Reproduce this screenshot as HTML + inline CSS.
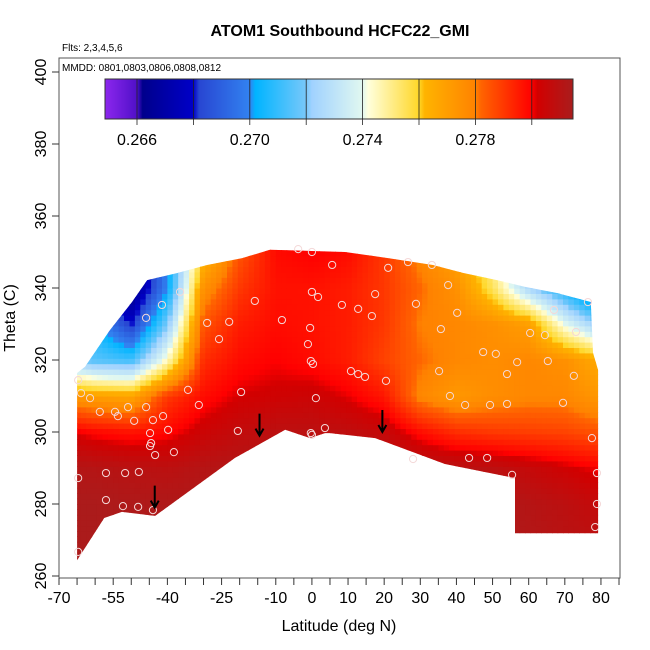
<!DOCTYPE html>
<html><head><meta charset="utf-8"><style>
body{margin:0;background:#fff;}
svg{display:block;font-family:"Liberation Sans",sans-serif;}
</style></head><body>
<svg id="chart" width="650" height="650" viewBox="0 0 650 650">
<text x="340" y="36" text-anchor="middle" font-size="16" font-weight="bold">ATOM1 Southbound HCFC22_GMI</text>
<text x="62" y="51" font-size="10">Flts: 2,3,4,5,6</text>
<g id="heat"></g>
<g id="pts"></g>
<g id="arrows"></g>
<rect x="59" y="58" width="561" height="520" fill="none" stroke="#555" stroke-width="1"/>
<text x="62" y="71" font-size="10">MMDD: 0801,0803,0806,0808,0812</text>
<g id="cbar"></g>
<g id="axes"></g>
<text x="339" y="631" text-anchor="middle" font-size="16">Latitude (deg N)</text>
<text transform="translate(15,318) rotate(-90)" text-anchor="middle" font-size="16">Theta (C)</text>
</svg>
<script>
const lats=[-70,-60,-50,-40,-30,-20,-10,0,10,20,30,40,50,60,70,80];
const thetas=[260,270,280,290,300,310,320,330,340,350];
const vals=[
[0.2814,0.2814,0.2814,0.2814,0.2814,0.2814,0.2814,0.2814,0.2814,0.2814,0.2814,0.2814,0.2814,0.2814,0.2814,0.2814],
[0.2814,0.2814,0.2814,0.2814,0.2814,0.2814,0.2814,0.2814,0.2814,0.2814,0.2814,0.2814,0.2814,0.2812,0.281,0.2809],
[0.2814,0.2814,0.2813,0.2813,0.2813,0.2814,0.2814,0.2814,0.2814,0.2814,0.2814,0.2813,0.2813,0.2811,0.2809,0.2806],
[0.2812,0.2811,0.281,0.2809,0.2811,0.2812,0.2813,0.2813,0.2813,0.2812,0.2811,0.281,0.2809,0.2806,0.2803,0.28],
[0.2803,0.2799,0.2797,0.2799,0.2804,0.2807,0.2809,0.2809,0.2808,0.2806,0.2798,0.2792,0.279,0.2789,0.2788,0.2785],
[0.2775,0.277,0.2768,0.279,0.2798,0.2802,0.2803,0.2804,0.2801,0.2796,0.2778,0.2772,0.2776,0.2778,0.2778,0.2772],
[0.2725,0.2715,0.2712,0.2745,0.2792,0.2798,0.28,0.2798,0.2795,0.2788,0.2782,0.2778,0.2776,0.2778,0.2775,0.2765],
[0.271,0.2705,0.268,0.272,0.2785,0.2795,0.2798,0.2797,0.2795,0.279,0.278,0.2778,0.2775,0.277,0.274,0.272],
[0.27,0.268,0.266,0.27,0.2775,0.279,0.2797,0.2797,0.2795,0.279,0.2782,0.2775,0.2755,0.2725,0.2705,0.268],
[0.268,0.268,0.2655,0.27,0.276,0.2785,0.2798,0.28,0.2798,0.279,0.2778,0.2768,0.275,0.272,0.27,0.268]];
const outlineLat=[-65,-57.5,-52.6,-43.4,-21.3,-7.4,-0.5,3.6,5,17.5,36.8,56.2,56.2,79.2,79.2,77.8,77.2,67.8,59,51.2,41.8,33.5,21.1,9.2,-11.6,-19.3,-29,-37.1,-45.6,-49.8,-55.9,-62.8,-65];
const outlineTheta=[264.4,276.1,277.8,276.7,292.8,300.6,298.3,299.7,299.7,298.3,291.1,287.2,271.9,271.9,317.2,322,336.1,338.6,340.3,342.2,344.2,346.4,348.3,350,350.6,348.3,346.4,344.2,342.2,336.1,328.3,318.1,316.4];
const ptLat=[-64.7,-64.7,-57,-52.3,-48.1,-44,-57,-51.7,-47.9,-58.7,-54.5,-53.7,-50.9,-49.2,-45.9,-44.8,-44.5,-44.8,-43.4,-44,-41.2,-38.2,-39.8,-64.7,-63.9,-61.4,-45.9,-41.5,-36.5,-34.3,-31.3,-29,-25.7,-22.9,-20.5,-19.6,-15.8,-8.3,-3.8,-1.1,0,0,1.7,-0.5,-0.3,0.3,-0.3,0,3.6,1.1,5.6,8.3,10.8,12.8,17.5,21.1,16.6,12.8,14.7,20.5,26.6,28.8,33.2,40.2,35.7,38.2,42.4,49.3,54,47.4,50.9,35.2,54,60.4,67,64.5,37.7,28,43.5,48.5,55.4,69.5,65.3,56.8,73.1,72.5,77.5,78.9,78.9,78.4,76.4];
const ptTheta=[266.7,287.2,281.1,279.4,279.2,278.3,288.6,288.6,288.9,305.6,305.6,304.4,306.9,303.1,306.9,299.7,296.9,296.1,293.6,303.3,304.4,294.4,300.6,314.4,310.8,309.4,331.7,335.3,338.9,311.7,307.5,330.3,325.8,330.6,300.3,311.1,336.4,331.1,350.8,324.4,350,338.9,337.5,328.9,319.7,318.9,299.7,299.2,301.1,309.4,346.4,335.3,316.9,334.2,338.3,345.6,332.2,316.1,315.3,314.2,347.2,335.6,346.4,333.1,328.6,310,307.5,307.5,307.8,322.2,321.7,316.9,316.1,327.5,333.9,326.9,340.8,292.5,292.8,292.8,288.1,308.1,319.7,319.4,327.8,315.6,298.3,288.6,280,273.6,336.1];
const arrowLat=[-43.5,-14.5,19.5];
const arrowTheta=[279,299,300];
const cbTicks=[0.266,0.270,0.274,0.278];

const NS="http://www.w3.org/2000/svg";
const X=lat=>59+(lat+70)*3.613;
const Y=t=>576-(t-260)*3.6;
const stops=[[0.2648,[144,40,240]],[0.266,[80,16,200]],[0.2662,[0,0,140]],[0.268,[0,0,200]],[0.2682,[40,70,210]],[0.270,[50,130,240]],[0.2702,[0,180,255]],[0.272,[120,200,250]],[0.2722,[160,210,255]],[0.274,[225,248,240]],[0.2742,[255,255,220]],[0.276,[255,215,40]],[0.2762,[255,180,0]],[0.278,[255,130,0]],[0.2782,[255,100,0]],[0.280,[255,0,0]],[0.2802,[210,0,0]],[0.2816,[165,32,32]]];
function col(v){
 if(v<=stops[0][0])return 'rgb('+stops[0][1]+')';
 for(let i=1;i<stops.length;i++){if(v<=stops[i][0]){const a=stops[i-1],b=stops[i],f=(v-a[0])/(b[0]-a[0]);return 'rgb('+a[1].map((c,k)=>Math.round(c+(b[1][k]-c)*f)).join(',')+')';}}
 return 'rgb('+stops[stops.length-1][1]+')';}
function val(lat,t){
 let i=Math.max(0,Math.min(lats.length-2,Math.floor((lat-lats[0])/10)));
 let j=Math.max(0,Math.min(thetas.length-2,Math.floor((t-thetas[0])/10)));
 let fx=Math.max(0,Math.min(1,(lat-lats[i])/10)),fy=Math.max(0,Math.min(1,(t-thetas[j])/10));
 const a=vals[j][i],b=vals[j][i+1],c=vals[j+1][i],d=vals[j+1][i+1];
 return a*(1-fx)*(1-fy)+b*fx*(1-fy)+c*(1-fx)*fy+d*fx*fy;}
const svg=document.getElementById('chart');
const defs=document.createElementNS(NS,'defs');
const cp=document.createElementNS(NS,'clipPath');cp.setAttribute('id','reg');
const poly=document.createElementNS(NS,'polygon');
poly.setAttribute('points',outlineLat.map((l,k)=>X(l).toFixed(1)+','+Y(outlineTheta[k]).toFixed(1)).join(' '));
cp.appendChild(poly);defs.appendChild(cp);svg.insertBefore(defs,svg.firstChild);
const heat=document.getElementById('heat');heat.setAttribute('clip-path','url(#reg)');
for(let lat=-70;lat<82;lat+=1.5){for(let t=262;t<352;t+=1.5){
 const r=document.createElementNS(NS,'rect');
 
 
 r.setAttribute('x',X(lat).toFixed(1));r.setAttribute('y',Y(t+1.5).toFixed(1));
 r.setAttribute('width',(1.5*3.613+0.6).toFixed(1));r.setAttribute('height',(1.5*3.6+0.6).toFixed(1));
 r.setAttribute('fill',col(val(lat+0.75,t+0.75)));heat.appendChild(r);}}
const pts=document.getElementById('pts');
ptLat.forEach((l,k)=>{const c=document.createElementNS(NS,'circle');
 
 
 c.setAttribute('cx',X(l));c.setAttribute('cy',Y(ptTheta[k]));c.setAttribute('r',3.6);
 c.setAttribute('fill','none');c.setAttribute('stroke','#f4d8d8');c.setAttribute('stroke-width',1);pts.appendChild(c);});
const ar=document.getElementById('arrows');
arrowLat.forEach((l,k)=>{const g=document.createElementNS(NS,'path');
 
 
 const x=X(l),y=Y(arrowTheta[k]);
 g.setAttribute('d',`M${x},${y-22}L${x},${y} M${x-4},${y-7}L${x},${y}L${x+4},${y-7}`);
 g.setAttribute('stroke','#000');g.setAttribute('stroke-width',2);g.setAttribute('fill','none');ar.appendChild(g);});
const cb=document.getElementById('cbar');
const cbX=v=>137+(v-0.266)*28200;
for(let x=105;x<573;x++){const r=document.createElementNS(NS,'rect');
 
 
 r.setAttribute('x',x);r.setAttribute('y',79);r.setAttribute('width',1.2);r.setAttribute('height',40);
 r.setAttribute('fill',col(0.266+(x+0.5-137)/28200));cb.appendChild(r);}
const fr=document.createElementNS(NS,'rect');


fr.setAttribute('x',105);fr.setAttribute('y',79);fr.setAttribute('width',468);fr.setAttribute('height',40);fr.setAttribute('fill','none');fr.setAttribute('stroke','#333');cb.appendChild(fr);
for(let v=0.266;v<0.2805;v+=0.002){const l=document.createElementNS(NS,'line');
 
 
 l.setAttribute('x1',cbX(v));l.setAttribute('x2',cbX(v));l.setAttribute('y1',79);l.setAttribute('y2',125);l.setAttribute('stroke','#222');l.setAttribute('stroke-width',0.8);cb.appendChild(l);}
cbTicks.forEach(v=>{const t=document.createElementNS(NS,'text');
 
 
 t.setAttribute('x',cbX(v));t.setAttribute('y',145);t.setAttribute('text-anchor','middle');t.setAttribute('font-size',16);t.textContent=v.toFixed(3);cb.appendChild(t);});
const ax=document.getElementById('axes');
function ln(x1,y1,x2,y2,n){const l=document.createElementNS(NS,'line');
 
 
 l.setAttribute('x1',x1);l.setAttribute('y1',y1);l.setAttribute('x2',x2);l.setAttribute('y2',y2);l.setAttribute('stroke','#333');ax.appendChild(l);}
for(let l=-70;l<=85;l+=5){ln(X(l),578,X(l),585,'x-tick');}
[-70,-55,-40,-25,-10,0,10,20,30,40,50,60,70,80].forEach(l=>{const t=document.createElementNS(NS,'text');
 
 
 t.setAttribute('x',X(l));t.setAttribute('y',603);t.setAttribute('text-anchor','middle');t.setAttribute('font-size',16);t.textContent=l;ax.appendChild(t);});
for(let t=260;t<=400;t+=20){ln(52,Y(t),59,Y(t),'y-tick');const tx=document.createElementNS(NS,'text');
 
 
 tx.setAttribute('transform',`translate(46,${Y(t)}) rotate(-90)`);tx.setAttribute('text-anchor','middle');tx.setAttribute('font-size',16);tx.textContent=t;ax.appendChild(tx);}
</script>
</body></html>
